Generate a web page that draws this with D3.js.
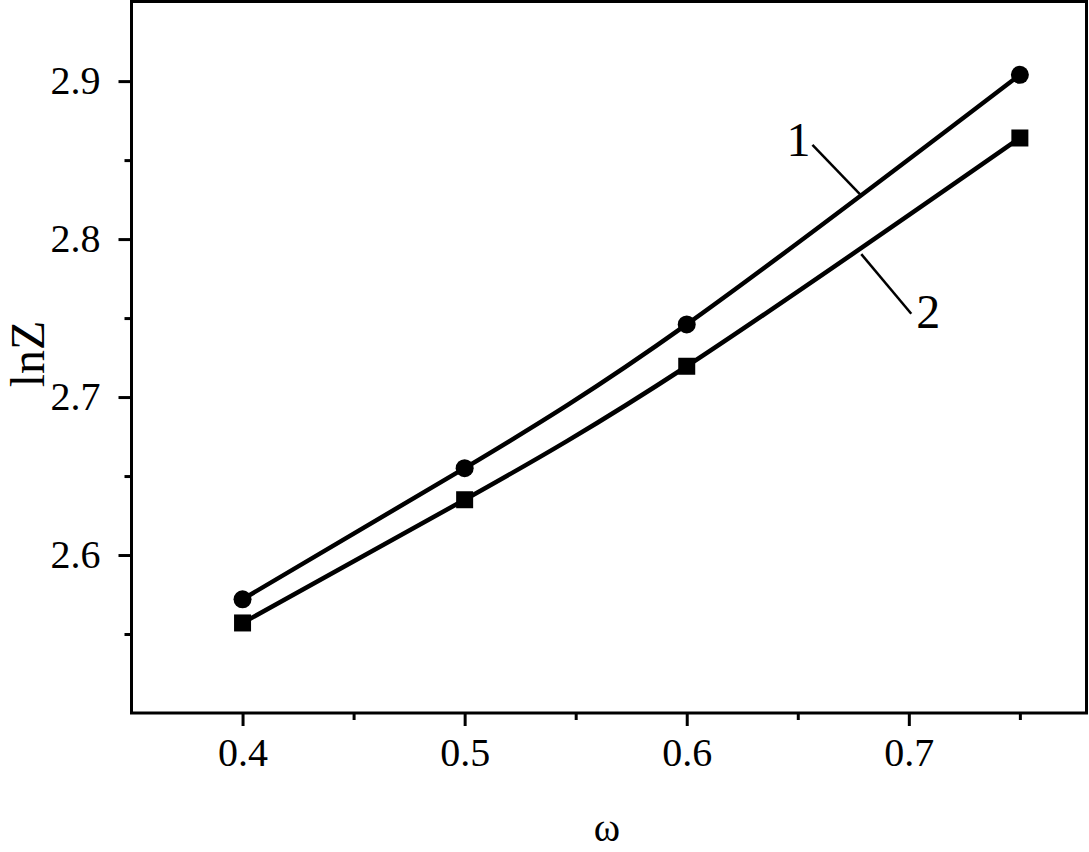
<!DOCTYPE html>
<html><head><meta charset="utf-8">
<script src="https://cdn.jsdelivr.net/npm/d3@7"></script>
<style>html,body{margin:0;padding:0;background:#fff;}svg{display:block;}</style>
</head><body>
<svg id="chart" width="1089" height="852"></svg>
<script>
const omega = [0.4, 0.5, 0.6, 0.75];
const series1 = [2.572, 2.655, 2.746, 2.904];
const series2 = [2.557, 2.635, 2.7195, 2.864];
const xTicks = [0.4, 0.5, 0.6, 0.7];
const xMinor = [0.45, 0.55, 0.65, 0.75];
const yTicks = [2.6, 2.7, 2.8, 2.9];
const yMinor = [2.55, 2.65, 2.75, 2.85];
const labelNames = ["1", "2"];
const labelPos = [[0.6449, 2.8523], [0.7033, 2.7439]];
const leaders = [[[0.6566, 2.8597], [0.6786, 2.8275]], [[0.6786, 2.7905], [0.7011, 2.7527]]];

const svg = d3.select("#chart");
const L = 131.5, R = 1086.5, T = 1.5, B = 713;
const x = d3.scaleLinear().domain([0.35, 0.78]).range([L, R]);
const y = d3.scaleLinear().domain([2.5, 2.9504]).range([B, T]);
const font = "'Times New Roman','Liberation Serif',Tinos,Times,serif";

// ticks
const xAxis = d3.axisBottom(x).tickValues(xTicks).tickSize(13).tickPadding(12).tickFormat(d3.format(".1f"));
const gx = svg.append("g").attr("transform", `translate(0,${B})`).call(xAxis);
gx.select(".domain").remove();
gx.selectAll("line").attr("stroke", "#000").attr("stroke-width", 3);
gx.selectAll("text").attr("font-family", font).attr("font-size", 40).attr("fill", "#000");
const gxm = svg.append("g").attr("transform", `translate(0,${B})`).call(d3.axisBottom(x).tickValues(xMinor).tickSize(7).tickFormat(""));
gxm.select(".domain").remove();
gxm.selectAll("line").attr("stroke", "#000").attr("stroke-width", 3);

const yAxis = d3.axisLeft(y).tickValues(yTicks).tickSize(13).tickPadding(18).tickFormat(d3.format(".1f"));
const gy = svg.append("g").attr("transform", `translate(${L},0)`).call(yAxis);
gy.select(".domain").remove();
gy.selectAll("line").attr("stroke", "#000").attr("stroke-width", 3);
gy.selectAll("text").attr("font-family", font).attr("font-size", 40).attr("fill", "#000").attr("dy", "0.3em");
const gym = svg.append("g").attr("transform", `translate(${L},0)`).call(d3.axisLeft(y).tickValues(yMinor).tickSize(7).tickFormat(""));
gym.select(".domain").remove();
gym.selectAll("line").attr("stroke", "#000").attr("stroke-width", 3);

// frame
svg.append("rect").attr("x", L).attr("y", T).attr("width", R - L).attr("height", B - T)
  .attr("fill", "none").attr("stroke", "#000").attr("stroke-width", 3);

// curves
const line = d3.line().x(d => x(d[0])).y(d => y(d[1])).curve(d3.curveNatural);
const d1 = omega.map((w, i) => [w, series1[i]]);
const d2 = omega.map((w, i) => [w, series2[i]]);
svg.append("path").attr("d", line(d1)).attr("fill", "none").attr("stroke", "#000").attr("stroke-width", 4.5);
svg.append("path").attr("d", line(d2)).attr("fill", "none").attr("stroke", "#000").attr("stroke-width", 4.5);

svg.selectAll("circle.m").data(d1).enter().append("circle")
  .attr("cx", d => x(d[0])).attr("cy", d => y(d[1])).attr("r", 9).attr("fill", "#000");
svg.selectAll("rect.m").data(d2).enter().append("rect")
  .attr("x", d => x(d[0]) - 8.5).attr("y", d => y(d[1]) - 8.5).attr("width", 17).attr("height", 17).attr("fill", "#000");

// annotations
leaders.forEach(l => {
  svg.append("line").attr("x1", x(l[0][0])).attr("y1", y(l[0][1])).attr("x2", x(l[1][0])).attr("y2", y(l[1][1]))
    .attr("stroke", "#000").attr("stroke-width", 2.5);
});
labelNames.forEach((t, i) => {
  svg.append("text").attr("x", x(labelPos[i][0])).attr("y", y(labelPos[i][1]))
    .attr("font-family", font).attr("font-size", 48).attr("fill", "#000").text(t);
});

// axis titles
svg.append("text").attr("x", 607).attr("y", 841).attr("text-anchor", "middle")
  .attr("font-family", font).attr("font-size", 40).attr("fill", "#000").text("ω");
svg.append("text").attr("transform", "translate(44,354) rotate(-90)").attr("text-anchor", "middle")
  .attr("font-family", font).attr("font-size", 48).attr("fill", "#000").text("lnZ");
</script>
</body></html>
